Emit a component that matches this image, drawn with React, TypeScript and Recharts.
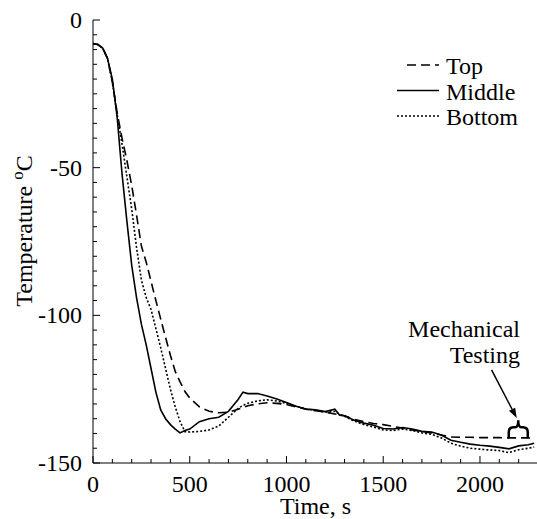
import React from "react";
import {
  LineChart,
  Line,
  XAxis,
  YAxis,
  Legend,
  ReferenceDot,
  ReferenceLine,
} from "recharts";

const FONT = "Liberation Serif, Times New Roman, DejaVu Serif, serif";
const txt = { fontFamily: FONT, fontSize: 24, fill: "#000" };

// time, s
const times = [
  0, 25, 50, 75, 100, 125, 150, 175, 200, 225, 250, 275, 300, 325, 350, 375,
  400, 425, 450, 475, 500, 550, 600, 650, 700, 750, 775, 800, 850, 900, 950,
  1000, 1050, 1100, 1150, 1200, 1250, 1275, 1300, 1350, 1400, 1450, 1500,
  1550, 1600, 1650, 1700, 1750, 1800, 1850, 1900, 1950, 2000, 2050, 2100,
  2150, 2200, 2250, 2280,
];

// temperature, °C
const topTemps = [
  -8, -8.3, -9.5, -13, -21, -31.5, -40, -47.5, -56, -66, -76.5, -82, -88.5,
  -95, -101.3, -107.5, -113.5, -119, -122.5, -125.8, -128, -131, -132.5, -133,
  -132.8, -131.8, -131.2, -130.6, -130, -129.6, -129.8, -130.2, -131, -131.8,
  -132.3, -132.8, -133.4, -133.7, -134, -135.2, -136, -136.6, -137, -137.6,
  -138.2, -138.8, -139.3, -139.8, -140.5, -141.2, -141.3, -141.3, -141.4,
  -141.4, -141.4, -141.5, -141.5, -141.5, -141.6,
];

const middleTemps = [
  -8, -8.3, -9.5, -13, -20, -33, -52, -68, -83, -94, -103, -110, -118, -126,
  -132, -135, -137, -138.5, -139.8, -139, -138.5, -136, -135, -134.5, -132.5,
  -128.5, -126, -126.5, -126.5, -127.3, -128.3, -129.5, -130.8, -131.7, -132,
  -132.6, -131.8, -133.8, -134, -135.5, -136.5, -137.2, -138.3, -138.5, -138,
  -138.5, -139.3, -139.5, -140.5, -142.3, -143, -143.6, -144, -144.3, -144.7,
  -145.2, -144.2, -143.8, -143.3,
];

const bottomTemps = [
  -8, -8.3, -9.5, -13, -21, -32, -42, -53, -64, -77, -88, -94, -98, -104.5,
  -111, -118, -125, -131, -136, -139.4, -139.5, -139.3, -138.8, -137.5, -134.5,
  -131.5, -130.5, -129.8, -129, -128.6, -129, -129.8, -130.8, -131.7, -132.2,
  -132.8, -132.5, -133.5, -134.2, -135.8, -137, -137.8, -138.8, -139, -138.5,
  -139, -139.8, -140.3, -141.5, -143.3, -144.3, -145, -145.3, -145.6, -145.8,
  -146.5, -145.5, -145, -144.6,
];

const xTicks = [
  0, 100, 200, 300, 400, 500, 600, 700, 800, 900, 1000, 1100, 1200, 1300,
  1400, 1500, 1600, 1700, 1800, 1900, 2000, 2100, 2200, 2300,
];
const yTicks = [
  -150, -145, -140, -135, -130, -125, -120, -115, -110, -105, -100, -95, -90,
  -85, -80, -75, -70, -65, -60, -55, -50, -45, -40, -35, -30, -25, -20, -15,
  -10, -5, 0,
];

const series = [
  { key: "top", name: "Top", dash: "9 5", width: 1.6 },
  { key: "middle", name: "Middle", dash: undefined, width: 1.6 },
  { key: "bottom", name: "Bottom", dash: "2 2", width: 1.6 },
];

const data = times.map((t, i) => ({
  t,
  top: topTemps[i],
  middle: middleTemps[i],
  bottom: bottomTemps[i],
}));

const BottomTick = ({ x, y, payload }: any) => {
  const major = payload.value % 500 === 0;
  return (
    <g>
      <line x1={x} y1={y} x2={x} y2={y - (major ? 7 : 4)} stroke="#000" />
      {major && (
        <text x={x} y={y + 29} textAnchor="middle" style={txt}>
          {payload.value}
        </text>
      )}
    </g>
  );
};

const TopTick = ({ x, y, payload }: any) => {
  const major = payload.value % 500 === 0;
  return <line x1={x} y1={y} x2={x} y2={y + (major ? 7 : 4)} stroke="#000" />;
};

const LeftTick = ({ x, y, payload }: any) => {
  const major = payload.value % 50 === 0;
  return (
    <g>
      <line x1={x} y1={y} x2={x + (major ? 7 : 4)} y2={y} stroke="#000" />
      {major && (
        <text x={x - 11} y={y + 8} textAnchor="end" style={txt}>
          {payload.value}
        </text>
      )}
    </g>
  );
};

const RightTick = ({ x, y, payload }: any) => {
  const major = payload.value % 50 === 0;
  return <line x1={x} y1={y} x2={x - (major ? 7 : 4)} y2={y} stroke="#000" />;
};

const LegendBox = () => (
  <svg width={150} height={90}>
    {series.map((s, i) => (
      <g key={s.key}>
        <line
          x1={s.dash === "9 5" ? 14 : 4}
          x2={46}
          y1={15 + i * 25.5}
          y2={15 + i * 25.5}
          stroke="#000"
          strokeWidth={s.width}
          strokeDasharray={s.dash}
        />
        <text x={53} y={24 + i * 25.5} style={txt}>
          {s.name}
        </text>
      </g>
    ))}
  </svg>
);

const Arrow = ({ x1, y1, x2, y2 }: any) => {
  const a = Math.atan2(y2 - y1, x2 - x1);
  const len = 10;
  const hw = 3.5;
  const bx = x2 - len * Math.cos(a);
  const by = y2 - len * Math.sin(a);
  const px = -Math.sin(a) * hw;
  const py = Math.cos(a) * hw;
  return (
    <g>
      <line x1={x1} y1={y1} x2={bx} y2={by} stroke="#000" strokeWidth={1.5} />
      <polygon points={`${x2},${y2} ${bx + px},${by + py} ${bx - px},${by - py}`} fill="#000" />
    </g>
  );
};

const Brace = ({ cx, cy }: any) => (
  <path
    d={`M ${cx - 9.5} ${cy + 18} L ${cx - 9.5} ${cy + 12} Q ${cx - 9.5} ${cy + 7} ${cx - 4.5} ${cy + 7} L ${cx - 3} ${cy + 7} Q ${cx} ${cy + 7} ${cx} ${cy} Q ${cx} ${cy + 7} ${cx + 3} ${cy + 7} L ${cx + 4.5} ${cy + 7} Q ${cx + 9.5} ${cy + 7} ${cx + 9.5} ${cy + 12} L ${cx + 9.5} ${cy + 18}`}
    fill="none"
    stroke="#000"
    strokeWidth={2.5}
  />
);

const AnnotText = (label: string) => ({ cx, cy }: any) => (
  <text x={cx} y={cy} textAnchor="end" style={txt}>
    {label}
  </text>
);

export default function App() {
  return (
    <div style={{ position: "absolute", left: 0, top: 0, width: 537, height: 519, background: "#fff", overflow: "hidden" }}>
      <LineChart width={540} height={519} data={data} margin={{ top: 20, right: 2, bottom: 0, left: 0 }}>
        <XAxis
          dataKey="t"
          type="number"
          domain={[0, 2300]}
          ticks={xTicks}
          interval={0}
          tickSize={0}
          tickMargin={0}
          tickLine={false}
          height={56}
          axisLine={{ stroke: "#000" }}
          tick={<BottomTick />}
          label={(p: any) => {
            const vb = p.viewBox;
            return (
              <text x={vb.x + vb.width / 2} y={vb.y + 51} textAnchor="middle" style={txt}>
                Time, s
              </text>
            );
          }}
        />
        <XAxis
          xAxisId="top"
          orientation="top"
          dataKey="t"
          type="number"
          domain={[0, 2300]}
          ticks={xTicks}
          interval={0}
          tickSize={0}
          tickMargin={0}
          tickLine={false}
          height={0}
          axisLine={{ stroke: "#000" }}
          tick={<TopTick />}
        />
        <YAxis
          type="number"
          domain={[-150, 0]}
          ticks={yTicks}
          interval={0}
          tickSize={0}
          tickMargin={0}
          tickLine={false}
          width={93}
          axisLine={{ stroke: "#000" }}
          tick={<LeftTick />}
          label={(p: any) => {
            const vb = p.viewBox;
            const cx = vb.x + 32;
            const cy = vb.y + 211;
            return (
              <text x={cx} y={cy} transform={`rotate(-90, ${cx}, ${cy})`} textAnchor="middle" style={txt}>
                Temperature <tspan dy={-9} style={{ fontSize: 17 }}>o</tspan>
                <tspan dy={9}>C</tspan>
              </text>
            );
          }}
        />
        <YAxis
          yAxisId="right"
          orientation="right"
          type="number"
          domain={[-150, 0]}
          ticks={yTicks}
          interval={0}
          tickSize={0}
          tickMargin={0}
          tickLine={false}
          width={0}
          axisLine={{ stroke: "#000" }}
          tick={<RightTick />}
        />
        <Legend
          layout="vertical"
          align="center"
          verticalAlign="middle"
          wrapperStyle={{ left: 393, top: 50, width: 150 }}
          content={() => <LegendBox />}
        />
        {series.map((s) => (
          <Line
            key={s.key}
            type="linear"
            dataKey={s.key}
            name={s.name}
            stroke="#000"
            strokeWidth={s.width}
            strokeDasharray={s.dash}
            dot={false}
            activeDot={false}
            isAnimationActive={false}
          />
        ))}
        <ReferenceLine
          segment={[
            { x: 2060, y: -118.5 },
            { x: 2190, y: -134.8 },
          ]}
          shape={(p: any) => <Arrow {...p} />}
        />
        <ReferenceDot x={2198} y={-135.5} r={0} shape={(p: any) => <Brace {...p} />} />
        <ReferenceDot x={2207} y={-107.3} r={0} shape={AnnotText("Mechanical")} />
        <ReferenceDot x={2207} y={-116.2} r={0} shape={AnnotText("Testing")} />
      </LineChart>
    </div>
  );
}
